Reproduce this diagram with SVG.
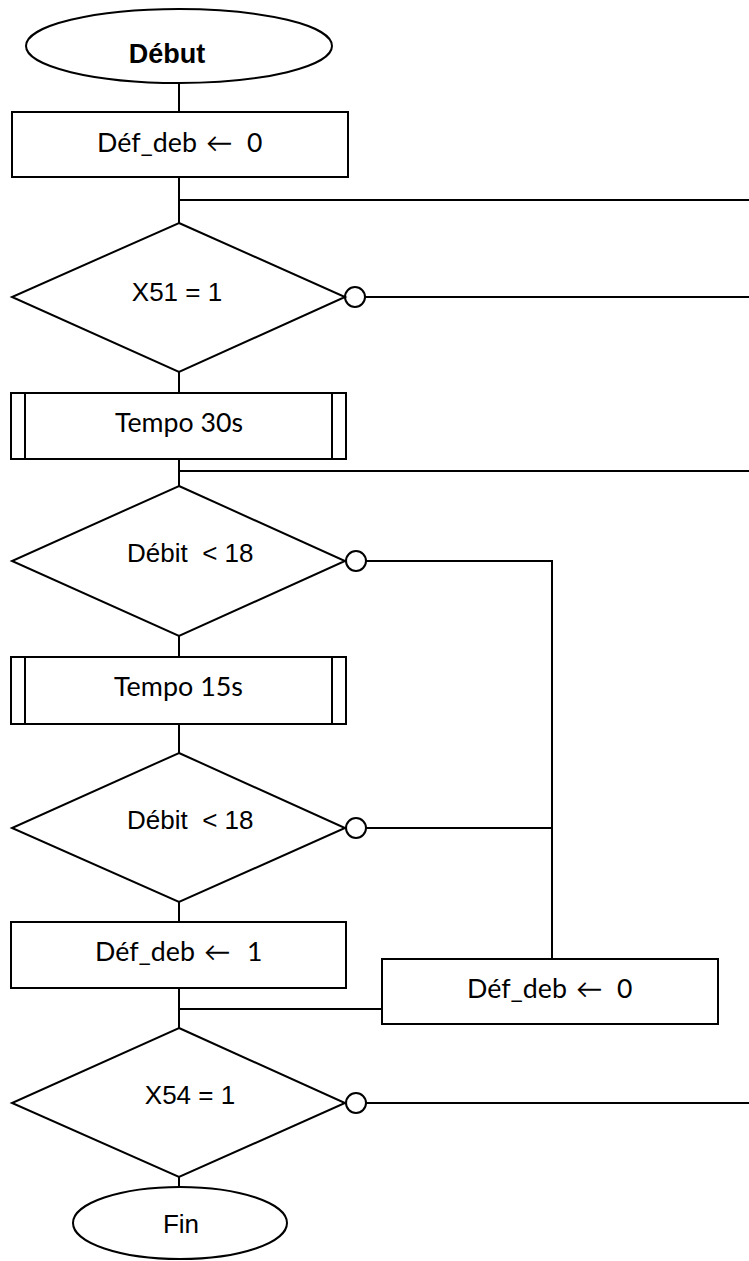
<svg xmlns="http://www.w3.org/2000/svg" width="749" height="1261" viewBox="0 0 749 1261">
<style>
.s{fill:#fff;stroke:#000;stroke-width:2}
.c{fill:none;stroke:#000;stroke-width:2}
.a{font-family:"Liberation Sans",Arial,sans-serif;font-size:26px;fill:#000}
.b{font-family:"Liberation Sans",Arial,sans-serif;font-size:27px;font-weight:bold;fill:#000}
.k{font-family:Lato,"Open Sans",sans-serif;font-size:26.5px;fill:#000}
</style>
<rect width="749" height="1261" fill="#fff"/>
<g id="connectors" class="c">
<path d="M179 83V112M179 177V223M179 200H749M179 372V393M365 297H749M179 459V486M179 471H749M179 636V657M366 561H552V959M179 724V753M366 828H552M179 902V922M179 988V1028M179 1009H382M366 1103H749M179 1177V1187"/>
<circle cx="355" cy="297" r="10" class="s"/>
<circle cx="356" cy="561" r="10" class="s"/>
<circle cx="356" cy="828" r="10" class="s"/>
<circle cx="356" cy="1103" r="10" class="s"/>
</g>
<g id="debut">
<ellipse cx="179" cy="46" rx="153" ry="37" class="s"/>
<text x="167" y="63" text-anchor="middle" class="b">Début</text>
</g>
<g id="init">
<rect x="12" y="112" width="336" height="65" class="s"/>
<text y="152" class="k"><tspan x="97" textLength="100" lengthAdjust="spacingAndGlyphs">Déf_deb</tspan> <tspan x="206">←</tspan> <tspan x="247">0</tspan></text>
</g>
<g id="test-x51">
<polygon points="179,223 345,297 179,372 12,297" class="s"/>
<text x="177" y="301" text-anchor="middle" class="a">X51 = 1</text>
</g>
<g id="tempo30">
<rect x="11" y="393" width="335" height="66" class="s"/>
<path d="M25 393V459M332 393V459" class="c"/>
<text x="115" y="432" class="k" textLength="128" lengthAdjust="spacingAndGlyphs">Tempo 30s</text>
</g>
<g id="test-debit1">
<polygon points="179,486 345,561 179,636 12,561" class="s"/>
<text x="127" y="562" class="a" xml:space="preserve">Débit  &lt; 18</text>
</g>
<g id="tempo15">
<rect x="11" y="657" width="335" height="67" class="s"/>
<path d="M25 657V724M332 657V724" class="c"/>
<text x="114" y="696" class="k" textLength="129" lengthAdjust="spacingAndGlyphs">Tempo 15s</text>
</g>
<g id="test-debit2">
<polygon points="179,753 345,828 179,902 12,828" class="s"/>
<text x="127" y="829" class="a" xml:space="preserve">Débit  &lt; 18</text>
</g>
<g id="set1">
<rect x="11" y="922" width="335" height="66" class="s"/>
<text y="961" class="k"><tspan x="95" textLength="100" lengthAdjust="spacingAndGlyphs">Déf_deb</tspan> <tspan x="204">←</tspan> <tspan x="247">1</tspan></text>
</g>
<g id="set0">
<rect x="382" y="959" width="336" height="65" class="s"/>
<text y="998" class="k"><tspan x="467" textLength="100" lengthAdjust="spacingAndGlyphs">Déf_deb</tspan> <tspan x="576">←</tspan> <tspan x="617">0</tspan></text>
</g>
<g id="test-x54">
<polygon points="179,1028 345,1103 179,1177 12,1103" class="s"/>
<text x="190" y="1104" text-anchor="middle" class="a">X54 = 1</text>
</g>
<g id="fin">
<ellipse cx="180" cy="1223" rx="107" ry="36" class="s"/>
<text x="181" y="1233" text-anchor="middle" class="a">Fin</text>
</g>
</svg>
